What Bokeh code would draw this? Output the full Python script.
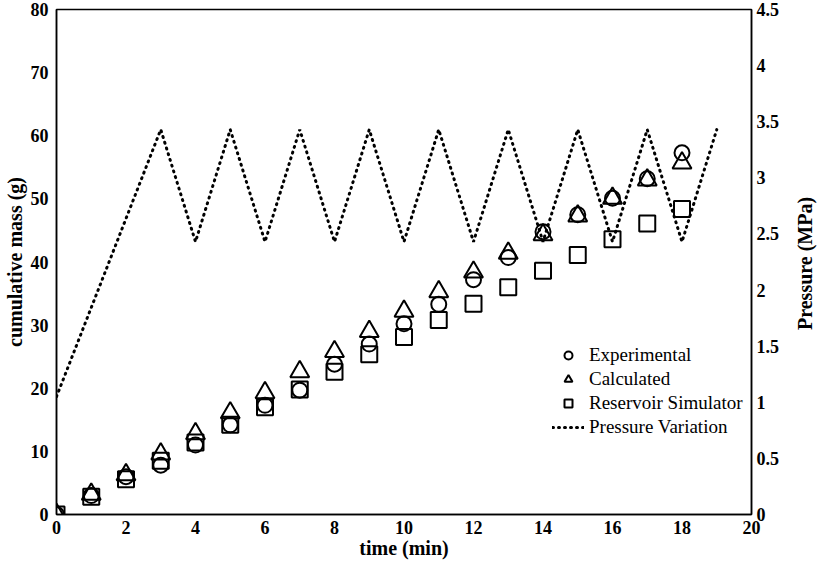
from bokeh.plotting import figure
from bokeh.layouts import row
from bokeh.models import Range1d, LinearAxis, FixedTicker, Legend, LegendItem, ColumnDataSource, Div
from bokeh.embed import file_html
from bokeh.resources import INLINE

# Data
time_min = [0, 1, 2, 3, 4, 5, 6, 7, 8, 9, 10, 11, 12, 13, 14, 15, 16, 17, 18]
experimental = [0, 3.0, 6.0, 7.8, 11.0, 14.2, 17.3, 19.7, 23.8, 27.0, 30.2, 33.3, 37.2, 40.7, 44.8, 47.5, 50.1, 53.2, 57.3]
calculated = [0, 3.2, 6.3, 9.6, 12.8, 16.1, 19.3, 22.6, 25.8, 29.0, 32.2, 35.3, 38.4, 41.4, 44.3, 47.3, 50.1, 53.0, 55.7]
simulator = [0, 2.8, 5.6, 8.5, 11.4, 14.2, 17.0, 19.8, 22.6, 25.4, 28.1, 30.8, 33.4, 36.0, 38.6, 41.1, 43.6, 46.1, 48.4]
p_time = [0, 3, 4, 5, 6, 7, 8, 9, 10, 11, 12, 13, 14, 15, 16, 17, 18, 19]
pressure = [1.05, 3.43, 2.43, 3.43, 2.43, 3.43, 2.43, 3.43, 2.43, 3.43, 2.43, 3.43, 2.43, 3.43, 2.43, 3.43, 2.43, 3.43]

x_ticks = [0, 2, 4, 6, 8, 10, 12, 14, 16, 18, 20]
y_ticks = [0, 10, 20, 30, 40, 50, 60, 70, 80]
p_ticks = [0, 0.5, 1, 1.5, 2, 2.5, 3, 3.5, 4, 4.5]
p_labels = ["0", "0.5", "1", "1.5", "2", "2.5", "3", "3.5", "4", "4.5"]

FONT = "Liberation Serif"

p = figure(width=791, height=561, output_backend="svg", toolbar_location=None,
           x_range=Range1d(0, 20), y_range=Range1d(0, 80),
           min_border_left=0, min_border_right=40, min_border_top=9, min_border_bottom=0)
p.extra_y_ranges = {"p": Range1d(0, 4.5)}

p.xgrid.visible = False
p.ygrid.visible = False
p.outline_line_color = "black"
p.outline_line_width = 1.5
p.background_fill_color = "white"
p.border_fill_color = "white"

src = ColumnDataSource(dict(t=time_min, e=experimental, c=calculated, s=simulator))
psrc = ColumnDataSource(dict(t=p_time, pr=pressure))

r_p = p.line("t", "pr", source=psrc, y_range_name="p", line_color="black",
             line_width=3, line_dash="1 5", line_cap="round")
r_s = p.scatter("t", "s", source=src, marker="square", size=16, fill_color=None,
                line_color="black", line_width=2)
r_c = p.scatter("t", "c", source=src, marker="triangle", size=19, fill_color=None,
                line_color="black", line_width=2)
r_e = p.scatter("t", "e", source=src, marker="circle", size=15, fill_color=None,
                line_color="black", line_width=2)

right = LinearAxis(y_range_name="p")
p.add_layout(right, "right")

for ax in [p.xaxis[0], p.yaxis[0], right]:
    ax.axis_line_color = "black"
    ax.axis_line_width = 1.5
    ax.major_tick_line_color = None
    ax.minor_tick_line_color = None
    ax.major_tick_out = 0
    ax.major_tick_in = 0
    ax.minor_tick_out = 0
    ax.minor_tick_in = 0
    ax.major_label_text_font = FONT
    ax.major_label_text_font_style = "bold"
    ax.major_label_text_font_size = "18px"
    ax.major_label_text_color = "black"
    ax.axis_label_text_font = FONT
    ax.axis_label_text_font_style = "bold"
    ax.axis_label_text_font_size = "20px"
    ax.axis_label_text_color = "black"

p.xaxis[0].ticker = FixedTicker(ticks=x_ticks)
p.xaxis[0].axis_label = "time (min)"
p.xaxis[0].major_label_standoff = 6
p.xaxis[0].axis_label_standoff = 0
p.yaxis[0].ticker = FixedTicker(ticks=y_ticks)
p.yaxis[0].axis_label = "cumulative mass (g)"
p.yaxis[0].major_label_standoff = 8
p.yaxis[0].axis_label_standoff = 2
right.ticker = FixedTicker(ticks=p_ticks)
right.major_label_overrides = {t: l for t, l in zip(p_ticks, p_labels)}
right.major_label_standoff = 5

legend = Legend(items=[
    LegendItem(label="Experimental", renderers=[r_e]),
    LegendItem(label="Calculated", renderers=[r_c]),
    LegendItem(label="Reservoir Simulator", renderers=[r_s]),
    LegendItem(label="Pressure Variation", renderers=[r_p]),
], location=(496, 76))
legend.border_line_color = None
legend.background_fill_alpha = 0
legend.padding = 0
legend.margin = 0
legend.spacing = 2
legend.glyph_width = 32
legend.glyph_height = 20
legend.label_height = 20
legend.label_standoff = 5
legend.label_text_font = FONT
legend.label_text_font_size = "19px"
legend.label_text_color = "black"
p.add_layout(legend, "center")

right_title = Div(text="Pressure (MPa)", width=19, height=516,
                  styles={"writing-mode": "vertical-rl", "transform": "rotate(180deg)",
                          "text-align": "center", "font-family": FONT, "font-weight": "bold",
                          "font-size": "20px", "color": "black", "line-height": "19px",
                          "white-space": "nowrap"})

layout = row(p, right_title, spacing=0)

open("out.html", "w").write(file_html(layout, INLINE))
